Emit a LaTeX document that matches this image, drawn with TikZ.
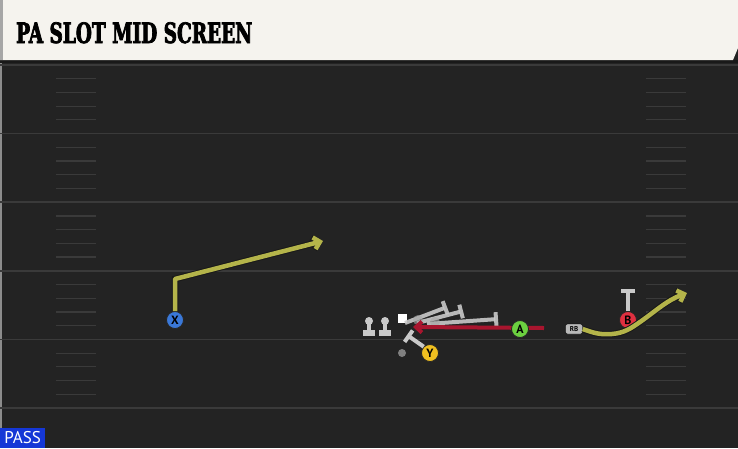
\documentclass[tikz,border=0pt]{standalone}
\usepackage{fontspec}
\usepackage{tikz}
\usetikzlibrary{arrows.meta}
\setsansfont{PT Sans}
\newfontfamily\titlefont[FakeStretch=0.66, FakeBold=2.5]{DejaVu Serif}
\definecolor{field}{HTML}{232323}
\definecolor{yardline}{HTML}{3A3A3A}
\definecolor{header}{HTML}{F5F3EE}
\definecolor{routeyellow}{HTML}{B4B44A}
\definecolor{routered}{HTML}{A8152E}
\definecolor{blockgrey}{HTML}{C9C9C9}
\definecolor{passblue}{HTML}{1537D6}
\definecolor{xblue}{HTML}{3A78D8}
\definecolor{yyellow}{HTML}{F0C020}
\definecolor{agreen}{HTML}{6CD040}
\definecolor{bred}{HTML}{E03040}

\begin{document}
\begin{tikzpicture}[%
      x=1pt, y=-1pt,
      player/.style={circle, draw=black!85, line width=0.8pt, inner sep=0pt,
        minimum size=17pt, font=\sffamily\bfseries\fontsize{12}{12}\selectfont},
      route/.style={color=routeyellow, line width=4.5pt, line join=round,
        preaction={draw=black!90, line width=6.5pt},
        -{Straight Barb[length=6pt,width=12pt]}},
      block/.style={color=blockgrey, line width=4pt,
        -{Bar[width=14pt,line width=4pt]}},
      hash/.style={color=yardline, line width=1.2pt},
      ]
      \useasboundingbox (0,0) rectangle (738,448);
      \fill [color=field] (0,0) rectangle (738,448);
      \fill [color=black!45] (0,60) rectangle (2,448);
      \foreach \k in {0,...,5}
        \draw [color=yardline, line width=1.5pt] (0,65+68.6*\k) -- (738,65+68.6*\k);
      \foreach \k in {0,...,4}
        \foreach \j in {1,...,4} {
          \draw [hash] (56,65+68.6*\k+13.72*\j) -- (96,65+68.6*\k+13.72*\j);
          \draw [hash] (646,65+68.6*\k+13.72*\j) -- (686,65+68.6*\k+13.72*\j);
        }

      \fill [color=black!90] (0,60) rectangle (738,63);
      \fill [color=header] (0,0) -- (738,0) -- (738,48) -- (733,60) -- (0,60) -- cycle;
      \fill [color=black!35] (0,0) rectangle (3,60);
      \node [anchor=base west, inner sep=0pt] (title) at (16,43)
        {\titlefont\bfseries\fontsize{28}{28}\selectfont PA SLOT MID SCREEN};

      \node [fill=passblue, anchor=south west, minimum width=45pt, minimum height=20pt,
        inner sep=0pt, text=white, font=\sffamily\fontsize{17}{17}\selectfont] (pass) at (0,448) {PASS};

      \coordinate (xturn) at (175,279);
      \coordinate (xend) at (323,241);
      \coordinate (atail) at (544,328);
      \coordinate (ahead) at (413,327);
      \coordinate (yend) at (407,335);
      \coordinate (bend) at (628,289);
      \coordinate (rbend) at (687,293);
      \coordinate (ol1) at (447,307);
      \coordinate (ol2) at (463,311);
      \coordinate (ol3) at (498,319);

      \foreach \px in {369,385} {
        \fill [color=blockgrey] (\px-6,330) rectangle (\px+6,336);
        \draw [color=blockgrey, line width=4pt] (\px,322) -- (\px,332);
        \fill [color=blockgrey] (\px,321) circle (4);
      }
      \node [fill=white, minimum size=9pt, inner sep=0pt] (center) at (402,318) {};
      \node [circle, fill=gray, inner sep=0pt, minimum size=8pt] (dot) at (402,353) {};

      \draw [block, opacity=0.9] (405,323) -- (ol1);
      \draw [block, opacity=0.9] (417,323) -- (ol2);
      \draw [block, opacity=0.9] (427,324) -- (ol3);
      \fill [color=gray!70, opacity=0.6] (418,320) circle (5);
      \fill [color=gray!70, opacity=0.6] (435,322) circle (5);

      \draw [color=routered, line width=4pt, -{Straight Barb[length=6pt,width=11pt]}] (atail) -- (ahead);

      \node [player, fill=xblue] (X) at (175,320) {X};
      \node [player, fill=yyellow] (Y) at (430,353) {Y};
      \node [player, fill=agreen] (A) at (520,329) {A};
      \node [player, fill=bred] (B) at (628,320) {B};
      \node [draw=black, fill=gray!55, rounded corners=2pt, inner sep=0pt, minimum width=17pt,
        minimum height=10pt, font=\sffamily\bfseries\fontsize{7}{7}\selectfont] (RB) at (574,329) {RB};

      \draw [route] (X.north) -- (xturn) -- (xend);
      \draw [route] (RB.east) to[out=-20,in=185] (612,334) to[out=5,in=215] (640,322)
        to[out=35,in=200] (rbend);
      \draw [block] (Y.north west) -- (yend);
      \draw [block] (B.north) -- (bend);
      \end{tikzpicture}
\end{document}
